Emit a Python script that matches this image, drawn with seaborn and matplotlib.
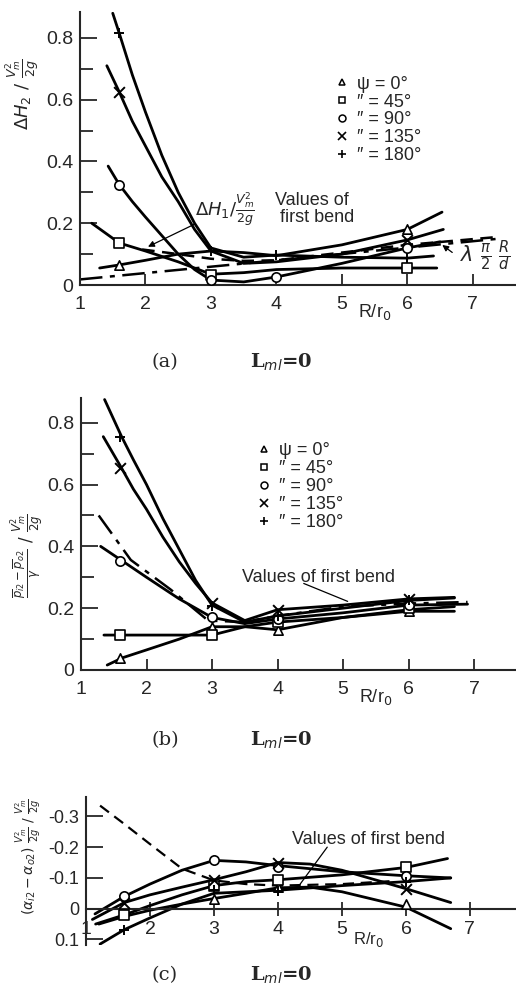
import matplotlib
matplotlib.use("Agg")
import matplotlib.pyplot as plt
from matplotlib.lines import Line2D
import numpy as np
import seaborn as sns

# measured stations (R/r0) where symbols are plotted
R_MARKS = [1.6, 3, 4, 6]

# ---- panel (a): head loss of second bend
A_X0 = [1.3, 1.6, 2.0, 2.5, 3.0, 3.5, 4.0, 5.0, 6.0, 6.53]
A_Y0 = [0.055, 0.065, 0.08, 0.1, 0.11, 0.105, 0.095, 0.13, 0.18, 0.236]
A_X45 = [1.18, 1.6, 2.0, 2.5, 3.0, 3.5, 4.0, 5.0, 6.0, 6.45]
A_Y45 = [0.2, 0.136, 0.11, 0.075, 0.035, 0.04, 0.05, 0.055, 0.055, 0.055]
A_X90 = [1.43, 1.6, 1.8, 2.0, 2.25, 2.5, 2.75, 3.0, 3.5, 4.0, 5.0, 6.0, 6.5]
A_Y90 = [0.385, 0.325, 0.27, 0.22, 0.16, 0.1, 0.05, 0.016, 0.01, 0.026, 0.07, 0.12, 0.14]
A_X135 = [1.41, 1.6, 1.8, 2.0, 2.25, 2.5, 2.75, 3.0, 3.5, 4.0, 5.0, 6.0, 6.55]
A_Y135 = [0.71, 0.625, 0.53, 0.45, 0.35, 0.27, 0.18, 0.11, 0.07, 0.075, 0.1, 0.146, 0.18]
A_X180 = [1.5, 1.6, 1.8, 2.0, 2.25, 2.5, 2.75, 3.0, 3.5, 4.0, 5.0, 6.0, 6.4]
A_Y180 = [0.88, 0.815, 0.68, 0.56, 0.42, 0.30, 0.2, 0.12, 0.09, 0.097, 0.09, 0.087, 0.094]
A_XFB = [1.95, 2.5, 3.0, 3.5, 4.0, 5.0, 6.0, 7.35]
A_YFB = [0.115, 0.1, 0.085, 0.078, 0.08, 0.105, 0.13, 0.155]
A_XLAM = [1.0, 7.4]
A_YLAM = [0.018, 0.15]
A_M0 = [0.065, np.nan, np.nan, 0.18]
A_M45 = [0.136, 0.032, np.nan, 0.055]
A_M90 = [0.325, 0.016, 0.026, 0.12]
A_M135 = [0.625, np.nan, np.nan, 0.146]
A_M180 = [0.815, 0.11, 0.097, 0.087]

# ---- panel (b): pressure difference
B_X0 = [1.4, 1.64, 2.0, 2.5, 3.0, 3.5, 4.0, 5.0, 6.0, 6.7]
B_Y0 = [0.016, 0.04, 0.065, 0.1, 0.14, 0.14, 0.13, 0.17, 0.195, 0.205]
B_X45 = [1.35, 1.6, 2.0, 3.0, 3.5, 4.0, 5.0, 6.0, 6.7]
B_Y45 = [0.113, 0.113, 0.113, 0.113, 0.14, 0.155, 0.17, 0.19, 0.19]
B_X90 = [1.3, 1.63, 2.0, 2.5, 3.0, 3.5, 4.0, 5.0, 6.0, 6.9]
B_Y90 = [0.4, 0.353, 0.3, 0.23, 0.17, 0.15, 0.165, 0.185, 0.21, 0.213]
B_X135 = [1.34, 1.62, 1.8, 2.0, 2.25, 2.5, 2.75, 3.0, 3.5, 4.0, 5.0, 6.0, 6.7]
B_Y135 = [0.755, 0.653, 0.585, 0.52, 0.43, 0.35, 0.28, 0.217, 0.16, 0.195, 0.21, 0.23, 0.235]
B_X180 = [1.36, 1.62, 1.8, 2.0, 2.25, 2.5, 2.75, 3.0, 3.5, 4.0, 5.0, 6.0, 6.7]
B_Y180 = [0.875, 0.755, 0.68, 0.6, 0.49, 0.39, 0.29, 0.21, 0.155, 0.175, 0.2, 0.225, 0.233]
B_XFB = [1.27, 1.76, 2.37, 2.94, 3.5, 4.0, 5.0, 6.0, 6.9]
B_YFB = [0.5, 0.356, 0.26, 0.16, 0.155, 0.175, 0.205, 0.215, 0.22]
B_M0 = [0.04, 0.14, 0.13, 0.19]
B_M45 = [0.113, 0.113, 0.155, 0.2]
B_M90 = [0.353, 0.17, 0.165, 0.21]
B_M135 = [0.653, 0.217, 0.195, 0.23]
B_M180 = [0.755, 0.207, 0.175, 0.225]

# ---- panel (c): energy coefficient difference
C_X0 = [1.2, 1.6, 2.0, 2.5, 3.0, 3.5, 4.0, 4.5, 5.0, 5.5, 6.0, 6.7]
C_Y0 = [0.05, 0.025, 0.005, -0.015, -0.033, -0.05, -0.068, -0.07, -0.055, -0.03, -0.005, 0.065]
C_X45 = [1.15, 1.6, 2.0, 2.5, 3.0, 3.5, 4.0, 5.0, 6.0, 6.65]
C_Y45 = [0.05, 0.02, -0.01, -0.045, -0.075, -0.088, -0.094, -0.11, -0.134, -0.163]
C_X90 = [1.14, 1.6, 2.0, 2.5, 3.0, 3.5, 4.0, 5.0, 6.0, 6.7]
C_Y90 = [0.017, -0.04, -0.08, -0.125, -0.157, -0.152, -0.14, -0.12, -0.107, -0.1]
C_X135 = [1.1, 1.6, 2.0, 2.5, 3.0, 3.5, 4.0, 4.5, 5.0, 6.0, 6.7]
C_Y135 = [0.035, -0.02, -0.045, -0.07, -0.094, -0.12, -0.15, -0.145, -0.125, -0.065, -0.02]
C_X180 = [1.22, 1.6, 2.0, 2.5, 3.0, 4.0, 5.0, 6.0, 6.7]
C_Y180 = [0.115, 0.068, 0.03, -0.015, -0.05, -0.06, -0.075, -0.088, -0.1]
C_XFB = [1.22, 1.6, 2.0, 2.5, 3.0, 3.5, 4.0, 5.0, 5.8]
C_YFB = [-0.335, -0.275, -0.21, -0.13, -0.092, -0.08, -0.075, -0.08, -0.09]
C_M0 = [np.nan, -0.033, -0.072, -0.016]
C_M45 = [0.02, -0.075, -0.094, -0.134]
C_M90 = [-0.04, -0.157, -0.137, -0.107]
C_M135 = [-0.02, -0.094, -0.15, -0.065]
C_M180 = [0.068, -0.06, -0.058, -0.088]

SYMBOLS = ["^", "s", "o", "x", "+"]
LEGEND_LABELS = ["ψ = 0°", "″ = 45°", "″ = 90°", "″ = 135°", "″ = 180°"]
X_TICKS = [1, 2, 3, 4, 5, 6, 7]

sns.set_style("ticks")
plt.rcParams["font.family"] = ["Liberation Sans", "DejaVu Sans"]
plt.rcParams["mathtext.fontset"] = "dejavusans"


def curve(ax, xs, ys, ls="-", lw=2.0):
    sns.lineplot(x=xs, y=ys, ax=ax, color="black", lw=lw, sort=False,
                 estimator=None, linestyle=ls)


def marks(ax, ys, marker):
    if marker in ("x", "+"):
        sns.scatterplot(x=R_MARKS, y=ys, ax=ax, marker=marker, s=60,
                        color="black", linewidth=1.4, zorder=5)
    else:
        sns.scatterplot(x=R_MARKS, y=ys, ax=ax, marker=marker, s=45,
                        facecolor="white", edgecolor="black", linewidth=1.2, zorder=5)


def style_axes(ax, xmax):
    ax.set_xlim(1, xmax)
    ax.spines["top"].set_visible(False)
    ax.spines["right"].set_visible(False)
    for s in ("left", "bottom"):
        ax.spines[s].set_linewidth(1.5)
    ax.set_xticks(X_TICKS)
    ax.set_xticklabels([str(t) for t in X_TICKS])
    ax.tick_params(which="both", direction="in", width=1.3, labelsize=14)
    ax.tick_params(axis="y", which="major", length=12, pad=5)
    ax.tick_params(axis="y", which="minor", length=9)
    ax.tick_params(axis="x", length=8, pad=8)
    ax.set_xlabel("")
    ax.set_ylabel("")


def legend(ax, anchor):
    handles = []
    for m in SYMBOLS:
        if m in ("x", "+"):
            handles.append(Line2D([], [], ls="", marker=m, color="black", ms=6, mew=1.2))
        else:
            handles.append(Line2D([], [], ls="", marker=m, mfc="white", mec="black", ms=5, mew=1.1))
    ax.legend(handles, LEGEND_LABELS, loc="upper left", bbox_to_anchor=anchor,
              frameon=False, fontsize=13, handletextpad=0.3, labelspacing=0.05,
              handlelength=1.0, borderpad=0)


def arrow(ax, tip, tail):
    ax.annotate("", xy=tip, xytext=tail,
                arrowprops=dict(arrowstyle="-|>", color="black", lw=0.9, mutation_scale=9))


fig = plt.figure(figsize=(5.16, 9.9), dpi=100)
ax_a = fig.add_axes([80 / 516, 1 - 285 / 990, 436 / 516, 273 / 990])
ax_b = fig.add_axes([81 / 516, 1 - 670 / 990, 435 / 516, 272 / 990])
ax_c = fig.add_axes([86 / 516, 1 - 945 / 990, 430 / 516, 148 / 990])

# (a)
for xs, ys in [(A_X0, A_Y0), (A_X45, A_Y45), (A_X90, A_Y90), (A_X135, A_Y135), (A_X180, A_Y180)]:
    curve(ax_a, xs, ys)
curve(ax_a, A_XFB, A_YFB, ls=(0, (5, 3)), lw=1.8)
curve(ax_a, A_XLAM, A_YLAM, ls=(0, (9, 3, 2, 3)), lw=1.8)
for ys, m in zip([A_M0, A_M45, A_M90, A_M135, A_M180], SYMBOLS):
    marks(ax_a, ys, m)
style_axes(ax_a, 7.66)
ax_a.set_ylim(0, 0.884)
ax_a.set_yticks([0, 0.2, 0.4, 0.6, 0.8])
ax_a.set_yticklabels(["0", "0.2", "0.4", "0.6", "0.8"])
ax_a.set_yticks(np.arange(0.1, 0.85, 0.2), minor=True)
legend(ax_a, (0.56, 0.80))
ax_a.text(3.98, 0.30, "Values of\n first bend", fontsize=13, ha="left", va="top", linespacing=1.0)
ax_a.text(2.76, 0.245, r"$\Delta H_1 / \frac{V_m^2}{2g}$", fontsize=13, ha="left", va="center")
arrow(ax_a, (2.0, 0.12), (2.78, 0.2))
ax_a.text(6.8, 0.095, r"$\lambda\ \frac{\pi}{2}\ \frac{R}{d}$", fontsize=15, ha="left", va="center")
arrow(ax_a, (6.5, 0.135), (6.72, 0.1))
ax_a.text(5.25, -0.1, r"R/r$_0$", transform=ax_a.get_xaxis_transform(), fontsize=13, ha="left", va="center")
ax_a.set_ylabel(r"$\Delta H_2\ /\ \frac{V_m^2}{2g}$", fontsize=13)
ax_a.yaxis.set_label_coords(-0.09, 0.70)

# (b)
for xs, ys in [(B_X0, B_Y0), (B_X45, B_Y45), (B_X90, B_Y90), (B_X135, B_Y135), (B_X180, B_Y180)]:
    curve(ax_b, xs, ys)
curve(ax_b, B_XFB, B_YFB, ls=(0, (9, 3, 2, 3)), lw=1.8)
for ys, m in zip([B_M0, B_M45, B_M90, B_M135, B_M180], SYMBOLS):
    marks(ax_b, ys, m)
style_axes(ax_b, 7.64)
ax_b.set_ylim(0, 0.88)
ax_b.set_yticks([0, 0.2, 0.4, 0.6, 0.8])
ax_b.set_yticklabels(["0", "0.2", "0.4", "0.6", "0.8"])
ax_b.set_yticks(np.arange(0.1, 0.85, 0.2), minor=True)
legend(ax_b, (0.38, 0.87))
ax_b.text(3.46, 0.3, "Values of first bend", fontsize=13, ha="left", va="center")
ax_b.plot([4.4, 5.07], [0.28, 0.222], color="black", lw=0.9)
ax_b.text(5.25, -0.1, r"R/r$_0$", transform=ax_b.get_xaxis_transform(), fontsize=13, ha="left", va="center")
ax_b.set_ylabel(r"$\frac{\overline{p}_{i2}-\overline{p}_{o2}}{\gamma}\ /\ \frac{V_m^2}{2g}$", fontsize=12)
ax_b.yaxis.set_label_coords(-0.08, 0.42)

# (c)
for xs, ys in [(C_X0, C_Y0), (C_X45, C_Y45), (C_X90, C_Y90), (C_X135, C_Y135), (C_X180, C_Y180)]:
    curve(ax_c, xs, ys)
curve(ax_c, C_XFB, C_YFB, ls=(0, (5, 3)), lw=1.6)
for ys, m in zip([C_M0, C_M45, C_M90, C_M135, C_M180], SYMBOLS):
    marks(ax_c, ys, m)
style_axes(ax_c, 7.72)
ax_c.set_ylim(0.118, -0.363)
ax_c.spines["bottom"].set_position(("data", 0))
ax_c.set_yticks([-0.3, -0.2, -0.1, 0, 0.1])
ax_c.set_yticklabels(["-0.3", "-0.2", "-0.1", "0", "0.1"])
ax_c.tick_params(axis="y", labelsize=13)
ax_c.tick_params(axis="x", direction="inout", length=10, pad=4)
ax_c.text(4.22, -0.225, "Values of first bend", fontsize=13, ha="left", va="center")
ax_c.plot([4.77, 4.34], [-0.2, -0.078], color="black", lw=0.9)
ax_c.text(5.18, 0.1, r"R/r$_0$", fontsize=12, ha="left", va="center")
ax_c.set_ylabel(r"$(\alpha_{i2}-\alpha_{o2})\ \frac{V_m^2}{2g}\ /\ \frac{V_m^2}{2g}$", fontsize=10)
ax_c.yaxis.set_label_coords(-0.1, 0.6)

# captions
for y, tag in [(362, "(a)"), (740, "(b)"), (975, "(c)")]:
    fig.text(165 / 516, 1 - y / 990, tag, family="DejaVu Serif", fontsize=14, ha="center", va="center")
    fig.text(250 / 516, 1 - y / 990, r"L$_{ml}$=0", family="DejaVu Serif", fontsize=14,
             fontweight="bold", ha="left", va="center")

fig.savefig("out.png", dpi=100)
